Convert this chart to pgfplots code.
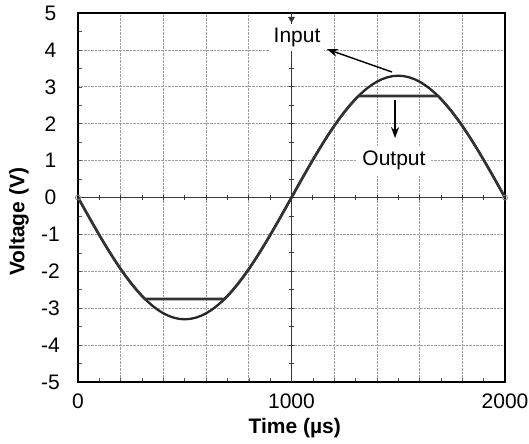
\documentclass[border=0pt]{standalone}
\usepackage{pgfplots}
\pgfplotsset{compat=1.18}
\usepackage{fontspec}
\setmainfont{Liberation Sans}
\usetikzlibrary{arrows.meta}

\begin{document}
\begin{tikzpicture}
\begin{axis}[
  scale only axis,
  width=427pt, height=369pt,
  xmin=0, xmax=2000, ymin=-5, ymax=5,
  clip=false,
  axis line style={black, line width=2.8pt},
  xtick={0,200,...,2000},
  xticklabels={0,,,,,1000,,,,,2000},
  minor xtick={100,300,...,1900},
  ytick={-5,-4,...,5},
  yticklabels={-5,-4,-3,-2,-1,0,1,2,3,4,5},
  minor ytick={-4.5,-3.5,...,4.5},
  xtick pos=lower, ytick pos=left,
  tick align=inside,
  major tick length=4pt, minor tick length=4pt,
  tick style={gray!70!black, line width=0.6pt},
  xmajorgrids, ymajorgrids,
  major grid style={densely dotted, gray!75, line width=0.7pt},
  tick label style={font=\fontsize{21}{25}\selectfont},
  xticklabel style={anchor=center, yshift=-19.5pt},
  yticklabel style={anchor=center, xshift=-27.5pt},
  label style={font=\fontsize{21}{25}\selectfont\bfseries},
  xlabel={Time (µs)},
  ylabel={Voltage (V)},
  xlabel style={at={(axis description cs:0.5075,-0.125)}, anchor=center},
  ylabel style={at={(axis description cs:-0.138,0.434)}, anchor=center},
]
% centre axis lines with their small ticks
\draw[gray!45!black, line width=1.1pt] (axis cs:1000,-5) -- (axis cs:1000,5);
\draw[gray!45!black, line width=1.1pt] (axis cs:0,0) -- (axis cs:2000,0);
\pgfplotsinvokeforeach{100,200,...,1900}{
  \draw[gray!45!black, line width=0.8pt] (axis cs:#1,-0.08) -- (axis cs:#1,0.08);
}
\pgfplotsinvokeforeach{-4.5,-4,...,4.5}{
  \draw[gray!45!black, line width=0.8pt] (axis cs:986,#1) -- (axis cs:1014,#1);
}
\coordinate (bl) at (rel axis cs:0,0);
\coordinate (tr) at (rel axis cs:1,1);

% input sine wave
\addplot[black!85, line width=2.3pt] coordinates {
(0,0) (25,-0.259) (50,-0.516) (75,-0.770) (100,-1.020) (125,-1.263)
(150,-1.498) (175,-1.724) (200,-1.940) (225,-2.143) (250,-2.333)
(275,-2.509) (300,-2.670) (325,-2.814) (350,-2.940) (375,-3.049)
(400,-3.139) (425,-3.209) (450,-3.259) (475,-3.290) (500,-3.300)
(525,-3.290) (550,-3.259) (575,-3.209) (600,-3.139) (625,-3.049)
(650,-2.940) (675,-2.814) (700,-2.670) (725,-2.509) (750,-2.333)
(775,-2.143) (800,-1.940) (825,-1.724) (850,-1.498) (875,-1.263)
(900,-1.020) (925,-0.770) (950,-0.516) (975,-0.259) (1000,0)
(1025,0.259) (1050,0.516) (1075,0.770) (1100,1.020) (1125,1.263)
(1150,1.498) (1175,1.724) (1200,1.940) (1225,2.143) (1250,2.333)
(1275,2.509) (1300,2.670) (1325,2.814) (1350,2.940) (1375,3.049)
(1400,3.139) (1425,3.209) (1450,3.259) (1475,3.290) (1500,3.300)
(1525,3.290) (1550,3.259) (1575,3.209) (1600,3.139) (1625,3.049)
(1650,2.940) (1675,2.814) (1700,2.670) (1725,2.509) (1750,2.333)
(1775,2.143) (1800,1.940) (1825,1.724) (1850,1.498) (1875,1.263)
(1900,1.020) (1925,0.770) (1950,0.516) (1975,0.259) (2000,0)
};

% clipped output
\addplot[black!80, line width=2.6pt] coordinates {
(0,0) (25,-0.259) (50,-0.516) (75,-0.770) (100,-1.020) (125,-1.263)
(150,-1.498) (175,-1.724) (200,-1.940) (225,-2.143) (250,-2.333)
(275,-2.509) (300,-2.670) (313,-2.75) (687,-2.75)
(700,-2.670) (725,-2.509) (750,-2.333)
(775,-2.143) (800,-1.940) (825,-1.724) (850,-1.498) (875,-1.263)
(900,-1.020) (925,-0.770) (950,-0.516) (975,-0.259) (1000,0)
(1025,0.259) (1050,0.516) (1075,0.770) (1100,1.020) (1125,1.263)
(1150,1.498) (1175,1.724) (1200,1.940) (1225,2.143) (1250,2.333)
(1275,2.509) (1300,2.670) (1313,2.75) (1687,2.75)
(1700,2.670) (1725,2.509) (1750,2.333)
(1775,2.143) (1800,1.940) (1825,1.724) (1850,1.498) (1875,1.263)
(1900,1.020) (1925,0.770) (1950,0.516) (1975,0.259) (2000,0)
};

% probe markers and top marker
\addplot[only marks, mark=o, gray, mark size=2.5pt, line width=0.8pt]
  coordinates {(0,0) (2000,0)};
\addplot[only marks, mark=triangle*, black!80, mark size=3.5pt,
  mark options={rotate=180}] coordinates {(1000,4.84)};

% annotations
\node[fill=white, inner sep=4pt, anchor=base, font=\fontsize{21}{25}\selectfont]
  at (axis cs:1026,4.19) {Input};
\node[fill=white, inner sep=5pt, anchor=base, font=\fontsize{21}{25}\selectfont]
  at (axis cs:1480,0.854) {Output};
\draw[-{Stealth[length=11pt,width=8pt]}, line width=1.4pt]
  (axis cs:1471,3.40) -- (axis cs:1166,4.02);
\draw[-{Stealth[length=11pt,width=8pt]}, line width=1.4pt]
  (axis cs:1485,2.64) -- (axis cs:1485,1.61);
\end{axis}
\pgfresetboundingbox
\useasboundingbox ([shift={(-78pt,-61pt)}]bl) rectangle ([shift={(24pt,13pt)}]tr);
\end{tikzpicture}
\end{document}
